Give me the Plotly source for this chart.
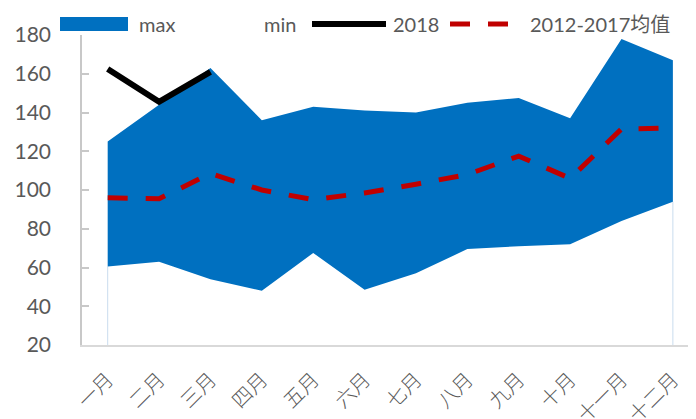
## Monthly range (max/min), 2018 and 2012-2017 average chart
import plotly.graph_objects as go

## Data
months = ["一月", "二月", "三月", "四月", "五月", "六月",
          "七月", "八月", "九月", "十月", "十一月", "十二月"]
max_vals = [125, 144, 163, 136, 143, 141, 140, 145, 147.5, 137, 178, 167]
min_vals = [60.5, 63, 54, 48, 67.5, 48.5, 57, 69.5, 71, 72, 84, 94]
y2018 = [162.5, 145.5, 161]
avg_vals = [96, 95.5, 108.5, 100, 95, 98.5, 103, 108, 117.5, 106, 131.5, 132]
y_ticks = [20, 40, 60, 80, 100, 120, 140, 160, 180]

grey = "#595959"
blue = "#0070C0"
red = "#C00000"
num_font = "Lato, 'Noto Sans CJK SC', sans-serif"
cjk_font = "'Noto Sans CJK SC', sans-serif"

#-------------------------------------------------------------------------------
## Traces
fig = go.Figure()
fig.add_trace(go.Scatter(x=months, y=min_vals, name="min", mode="lines",
    line=dict(width=0), hoverinfo="skip", showlegend=False))
fig.add_trace(go.Scatter(x=months, y=max_vals, name="max", mode="lines",
    line=dict(width=0), fill="tonexty", fillcolor=blue, showlegend=False))
fig.add_trace(go.Scatter(x=months[:len(y2018)], y=y2018, name="2018",
    mode="lines", line=dict(color="black", width=6), showlegend=False))
fig.add_trace(go.Scatter(x=months, y=avg_vals, name="2012-2017均值",
    mode="lines", line=dict(color=red, width=5, dash="20px,18px"),
    showlegend=False))

# faint edges of the min area at the first and last month
for i in [0, len(months) - 1]:
    fig.add_shape(type="line", xref="x", yref="y", x0=i, x1=i,
        y0=y_ticks[0], y1=min_vals[i], line=dict(color="#c9dcee", width=1),
        layer="below")

#-------------------------------------------------------------------------------
## Manual legend (paper coords: plot area 82..696 px wide, 35..345 px tall)
def px(x):
    return (x - 82) / 614

def py(y):
    return (345 - y) / 310

fig.add_shape(type="rect", xref="paper", yref="paper", x0=px(60), x1=px(128),
    y0=py(31), y1=py(17), fillcolor=blue, line=dict(width=0))
fig.add_shape(type="line", xref="paper", yref="paper", x0=px(312), x1=px(386),
    y0=py(24), y1=py(24), line=dict(color="black", width=6))
fig.add_shape(type="line", xref="paper", yref="paper", x0=px(450), x1=px(510),
    y0=py(24), y1=py(24), line=dict(color=red, width=5, dash="20px,18px"))
for txt, x in [("max", 137), ("min", 262), ("2018", 391),
               ("2012-2017均值", 528)]:
    fig.add_annotation(text=txt, xref="paper", yref="paper", x=px(x),
        y=py(24), xanchor="left", yanchor="middle", showarrow=False,
        font=dict(family=num_font, size=20, color=grey))

#-------------------------------------------------------------------------------
## Layout (page has an 8px body margin, so the figure is shifted by -8px)
fig.update_layout(
    width=688, height=411,
    margin=dict(l=74, r=0, t=27, b=74, autoexpand=False),
    paper_bgcolor="white", plot_bgcolor="white",
    showlegend=False,
    xaxis=dict(range=[-0.5, 11.45], showgrid=False, zeroline=False,
        showline=True, linecolor="#d9d9d9", linewidth=2, ticks="",
        tickangle=-45, automargin=False, ticklabelstandoff=13,
        tickfont=dict(family=cjk_font, size=20, color=grey, weight=300)),
    yaxis=dict(range=[20, 180], tickvals=y_ticks, showgrid=False,
        zeroline=False, showline=True, linecolor="#c8c8c8", linewidth=1.5,
        ticks="inside", ticklen=7, tickcolor="#c8c8c8", tickwidth=1.5,
        ticklabelstandoff=25, automargin=False,
        tickfont=dict(family=num_font, size=21, color=grey)),
)

fig.write_html("out.html")
